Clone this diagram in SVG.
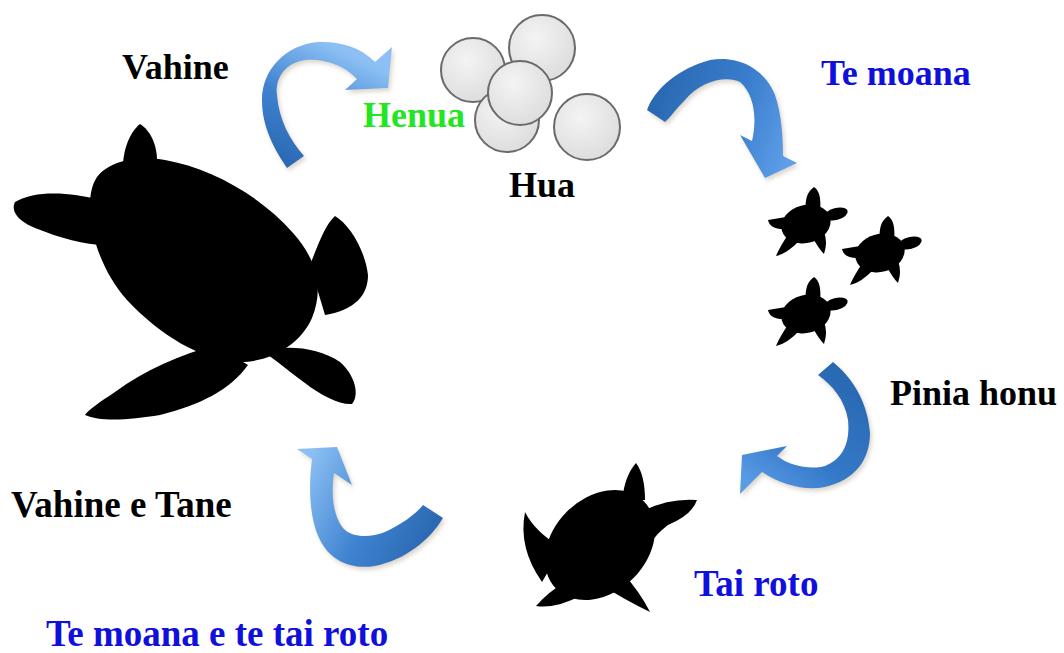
<svg xmlns="http://www.w3.org/2000/svg" xmlns:xlink="http://www.w3.org/1999/xlink" width="1064" height="653" viewBox="0 0 1064 653">
<style>
.lbl{font-family:"Liberation Serif","Times New Roman",serif;font-weight:bold;font-size:36px}
.blk{fill:#000}
.blue{fill:#1010dc}
.green{fill:#22e622}
.sil{fill:#000}
.egg{fill:url(#eggGrad);stroke:#6a6a6a;stroke-width:2}
.arrow{filter:url(#shadow)}
</style>
<defs>
<radialGradient id="eggGrad" cx="0.4" cy="0.35" r="0.7">
<stop offset="0" stop-color="#f4f4f4"/>
<stop offset="1" stop-color="#dcdcdc"/>
</radialGradient>
<linearGradient id="g1" gradientUnits="userSpaceOnUse" x1="275" y1="160" x2="330" y2="45">
<stop offset="0" stop-color="#2a69b2"/>
<stop offset="0.5" stop-color="#3f82d0"/>
<stop offset="1" stop-color="#8cc0f4"/>
</linearGradient>
<linearGradient id="g2" gradientUnits="userSpaceOnUse" x1="650" y1="110" x2="790" y2="160">
<stop offset="0" stop-color="#2a69b2"/>
<stop offset="0.55" stop-color="#3a7dcc"/>
<stop offset="1" stop-color="#5f9fe9"/>
</linearGradient>
<linearGradient id="g3" gradientUnits="userSpaceOnUse" x1="830" y1="365" x2="745" y2="480">
<stop offset="0" stop-color="#2a69b2"/>
<stop offset="0.6" stop-color="#3479c8"/>
<stop offset="1" stop-color="#5a9be6"/>
</linearGradient>
<linearGradient id="g4" gradientUnits="userSpaceOnUse" x1="440" y1="520" x2="310" y2="455">
<stop offset="0" stop-color="#2a69b2"/>
<stop offset="0.45" stop-color="#3f82d0"/>
<stop offset="1" stop-color="#8cc0f4"/>
</linearGradient>
<filter id="shadow" x="-20%" y="-20%" width="140%" height="140%">
<feDropShadow dx="2" dy="3" stdDeviation="2" flood-color="#9a8a70" flood-opacity="0.35"/>
</filter>
<g id="hatch">
<ellipse cx="0" cy="0" rx="25" ry="19" transform="rotate(-15)"/>
<ellipse cx="30" cy="-10" rx="12" ry="6" transform="rotate(-15 30 -10)"/>
<path d="M0,-14 Q-2,-30 8,-37 Q16,-32 14,-12 Z"/>
<path d="M6,12 Q12,24 18,30 Q22,18 18,8 Z"/>
<path d="M-20,-7 L-38,-4 Q-36,6 -20,5 Z"/>
<path d="M-16,8 Q-26,22 -30,32 Q-19,30 -5,15 Z"/>
</g>
</defs>
<rect width="1064" height="653" fill="#fff"/>

<g id="connectors">
<path class="arrow" fill="url(#g1)" d="M287,168 C275,150 262,128 262,100 C262,70 285,45 318,42 C340,41 360,47 375,62 L392,47 L388,88 L345,90 L357,79 C345,66 325,58 305,60 C285,63 275,78 277,95 C279,120 290,140 304,156 Z"/>
<path class="arrow" fill="url(#g2)" d="M647,110 C655,88 680,68 710,60 C740,55 765,70 775,95 C782,115 783,140 783,156 L797,163 L765,178 L740,135 L752,141 C757,120 755,95 740,82 C725,75 700,82 685,100 C675,110 670,118 665,122 Z"/>
<path class="arrow" fill="url(#g3)" d="M833,362 C855,380 868,405 870,433 C870,460 855,480 825,487 C805,491 782,485 762,472 L740,494 L742,455 L787,446 L777,456 C790,466 810,470 825,466 C845,458 850,440 848,420 C845,400 832,385 818,375 Z"/>
<path class="arrow" fill="url(#g4)" d="M443,518 C430,540 405,560 375,566 C350,570 330,560 320,540 C310,520 308,490 312,459 L297,449 L337,447 L352,485 L334,473 C331,495 333,515 343,528 C352,538 370,538 385,532 C400,525 415,515 423,505 Z"/>
</g>

<g id="adult-turtle" class="sil">
<path d="M97,177 C110,160 140,155 165,160 C210,168 260,195 293,233 C315,258 325,285 312,318 C300,345 270,362 240,362 C200,360 160,335 127,300 C105,275 90,240 90,205 C90,192 93,183 97,177 Z"/>
<path d="M123,172 C122,150 130,132 140,124 C150,130 158,145 157,165 Z"/>
<path d="M100,200 C70,192 35,190 15,202 C10,212 20,222 35,228 C60,238 85,245 105,245 Z"/>
<path d="M310,265 C318,245 325,225 335,216 C350,225 365,250 368,275 C368,295 355,310 325,315 Z"/>
<path d="M215,345 C180,355 145,370 115,392 C100,402 88,410 85,415 C100,422 130,420 160,415 C200,405 230,390 248,365 Z"/>
<path d="M268,350 C290,345 320,348 340,362 C355,375 360,395 352,404 C340,405 320,395 305,383 C290,372 278,362 268,355 Z"/>
</g>

<g id="eggs">
<circle class="egg" cx="473" cy="70" r="32"/>
<circle class="egg" cx="542" cy="48" r="33"/>
<circle class="egg" cx="507" cy="120" r="32"/>
<circle class="egg" cx="520" cy="93" r="32"/>
<circle class="egg" cx="587" cy="127" r="33"/>
</g>

<g id="hatchlings" class="sil">
<use xlink:href="#hatch" href="#hatch" transform="translate(806,224)"/>
<use xlink:href="#hatch" href="#hatch" transform="translate(880,253)"/>
<use xlink:href="#hatch" href="#hatch" transform="translate(806,314)"/>
</g>

<g id="juvenile-turtle" class="sil">
<ellipse cx="600" cy="545" rx="62" ry="47" transform="rotate(-45 600 545)"/>
<path d="M622,500 Q625,475 636,463 Q645,475 645,500 Z"/>
<path d="M645,510 Q670,498 697,500 Q692,515 668,525 Q655,535 652,542 Z"/>
<path d="M562,548 Q535,532 525,512 Q518,548 542,582 Z"/>
<path d="M568,580 Q548,592 536,606 Q556,609 582,595 Z"/>
<path d="M600,584 Q625,600 650,612 Q640,592 622,572 Z"/>
</g>

<g id="labels">
<text class="lbl blk" x="122" y="79">Vahine</text>
<text class="lbl green" x="363" y="127">Henua</text>
<text class="lbl blk" x="509" y="197">Hua</text>
<text class="lbl blue" x="821" y="85">Te moana</text>
<text class="lbl blk" x="890" y="405">Pinia honu</text>
<text class="lbl blk" x="11" y="517" style="font-size:37px">Vahine e Tane</text>
<text class="lbl blue" x="694" y="596" style="font-size:37px">Tai roto</text>
<text class="lbl blue" x="46" y="646" style="font-size:37px">Te moana e te tai roto</text>
</g>
</svg>
